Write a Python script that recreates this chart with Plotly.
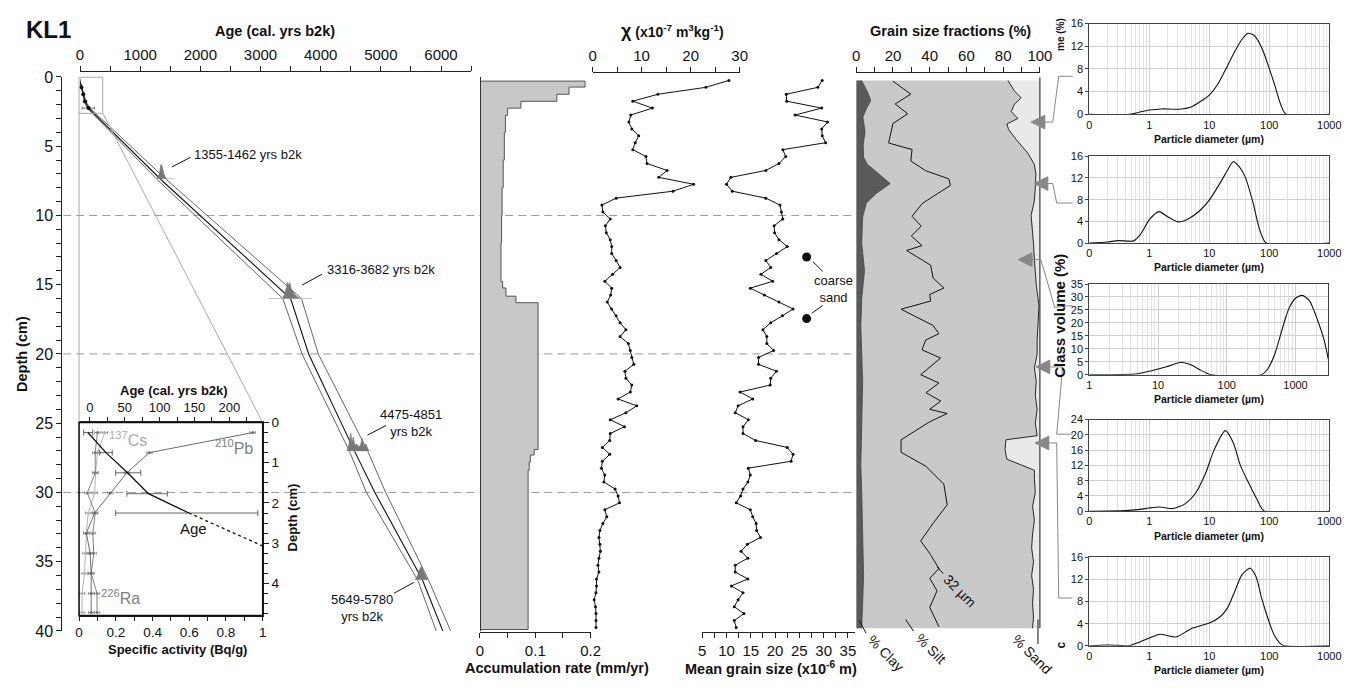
import plotly.graph_objects as go

W, H = 1363, 688
def X(px): return px / W
def Y(py): return 1 - py / H
FONT = "Liberation Sans, Arial, Helvetica, sans-serif"
INK = "#111111"

# ======================= DATA =======================
# Age-depth model (cal. yrs b2k vs depth cm)
model_depth   = [0.25, 0.75, 1.25, 1.77, 2.25, 7.35, 16.0, 20.0, 27.0, 30.0, 36.3, 40.0]
model_age_med = [-3, 23, 55, 84, 142, 1330, 3500, 3800, 4560, 4900, 5690, 6030]
model_age_min = [-3, 20, 48, 72, 118, 1270, 3370, 3690, 4475, 4760, 5610, 5920]
model_age_max = [-3, 26, 62, 96, 166, 1420, 3680, 3960, 4780, 5080, 5790, 6160]

# 210Pb-derived ages (inset and top of main panel)
pb_age_depth = [0.25, 0.75, 1.25, 1.77, 2.25]
pb_age       = [-3, 23, 54, 84, 142]
pb_age_lo    = [-9, 14, 37, 53, 37]
pb_age_hi    = [4, 32, 73, 111, 241]
pb_extrap_depth = [2.25, 3.07]
pb_extrap_age   = [142, 248]

# radiocarbon dates: calibrated probability shapes
c14_labels = ["1355-1462 yrs b2k", "3316-3682 yrs b2k", "4475-4851<br>yrs b2k", "5649-5780<br>yrs b2k"]
c14_depth  = [7.35, 16.0, 27.0, 36.3]
c14_base_lo = [1280, 3130, 4420, 5560]
c14_base_hi = [1570, 3850, 4850, 5800]
c14_ages = [
    [1280, 1320, 1345, 1365, 1390, 1420, 1445],
    [3360, 3400, 3430, 3450, 3470, 3490, 3510, 3550, 3600, 3655],
    [4440, 4470, 4500, 4520, 4540, 4570, 4600, 4630, 4660, 4690, 4720, 4750, 4780, 4800],
    [5570, 5610, 5640, 5670, 5690, 5720, 5750, 5790],
]
c14_heights = [
    [0, 0.4, 1.05, 0.9, 0.4, 0.1, 0],
    [0, 0.3, 0.8, 1.2, 0.9, 1.15, 0.7, 0.4, 0.15, 0],
    [0, 0.5, 1.3, 0.6, 1.0, 0.4, 0.5, 0.3, 0.4, 0.9, 0.3, 0.5, 0.2, 0],
    [0, 0.3, 0.7, 0.95, 0.8, 0.5, 0.2, 0],
]

# Inset: specific activities (Bq/g)
rn_depth = [0.25, 0.75, 1.25, 1.75, 2.25, 2.75, 3.25, 3.75, 4.25, 4.72]
cs137 = [0.14, 0.10, 0.09, 0.085, 0.05, 0.04, 0.035, 0.03, 0.016, 0.016]
ra226 = [0.10, 0.088, 0.088, 0.045, 0.088, 0.075, 0.08, 0.066, 0.098, 0.098]
pb210 = [0.946, 0.383, 0.26, 0.17, 0.085, 0.04, 0.06, 0.066, 0.066, 0.066]

# Accumulation rate (mm/yr), step profile
acc_top  = [0.3, 0.73, 1.25, 1.76, 2.25, 2.77, 4.0, 6.0, 8.0, 10.0, 12.0, 14.77, 15.24, 15.83, 16.3, 26.9, 27.3, 27.8, 28.4]
acc_rate = [0.19, 0.161, 0.139, 0.074, 0.05, 0.046, 0.044, 0.042, 0.040, 0.039, 0.038, 0.041, 0.047, 0.065, 0.105, 0.098, 0.091, 0.089, 0.087]
acc_bottom = 39.9

# Samples
sample_depth = [0.25, 0.75, 1.25, 1.75, 2.25, 2.75, 3.25, 3.75, 4.25, 4.75,
                5.25, 5.75, 6.25, 6.75, 7.25, 7.75, 8.25, 8.75, 9.25, 9.75,
                10.25, 10.75, 11.25, 11.75, 12.25, 12.75, 13.25, 13.75, 14.25, 14.75,
                15.25, 15.75, 16.25, 16.75, 17.25, 17.75, 18.25, 18.75, 19.25, 19.75,
                20.25, 20.75, 21.25, 21.75, 22.25, 22.75, 23.25, 23.75, 24.25, 24.75,
                25.25, 25.75, 26.25, 26.75, 27.25, 27.75, 28.25, 28.75, 29.25, 29.75,
                30.25, 30.75, 31.25, 31.75, 32.25, 32.75, 33.25, 33.75, 34.25, 34.75,
                35.25, 35.75, 36.25, 36.75, 37.25, 37.75, 38.25, 38.75, 39.25, 39.75]
chi = [27.8, 23.1, 13.3, 8.2, 12.2, 7.8, 7.4, 8.0, 9.4, 8.7,
       8.2, 10.9, 11.1, 15.2, 13.5, 20.6, 16.4, 4.8, 1.9, 2.1,
       3.6, 2.6, 2.8, 3.6, 3.9, 3.9, 4.8, 5.6, 4.1, 2.5,
       3.9, 3.7, 3.0, 3.9, 4.8, 5.6, 6.8, 5.6, 7.3, 7.7,
       8.0, 8.4, 6.6, 6.8, 8.0, 7.7, 5.2, 9.0, 6.8, 3.6,
       6.5, 3.6, 3.5, 2.0, 3.5, 2.0, 1.8, 2.5, 2.3, 4.6,
       5.2, 5.5, 2.5, 2.9, 2.1, 1.5, 1.3, 1.5, 1.6, 1.3,
       1.1, 1.3, 0.8, 0.8, 0.7, 0.3, 0.6, 0.7, 0.7, 0.7]
mgs = [29.7, 28.8, 22.3, 22.4, 29.6, 24.1, 30.8, 29.6, 29.7, 30.4,
       21.6, 22.2, 20.8, 18.1, 10.9, 10.0, 11.2, 18.1, 21.0, 21.3,
       21.6, 19.8, 19.9, 20.8, 22.5, 20.3, 18.1, 19.1, 17.1, 19.5,
       14.9, 17.8, 20.8, 23.7, 21.5, 19.1, 17.5, 18.3, 18.3, 19.7,
       16.6, 16.6, 20.3, 19.1, 19.0, 12.8, 15.4, 12.4, 11.8, 14.5,
       13.4, 13.4, 16.0, 22.5, 23.7, 23.3, 14.5, 14.9, 14.4, 13.4,
       12.9, 12.0, 14.9, 15.4, 16.1, 16.2, 17.0, 14.3, 13.0, 14.4,
       11.8, 11.8, 14.4, 11.0, 13.4, 12.4, 11.6, 13.6, 11.6, 12.0]
coarse_depth = [13.0, 17.45]
coarse_mgs = [26.5, 26.5]

# Grain size fractions (cumulative %)
clay_depth = [0.25, 1.1, 1.7, 2.3, 2.9, 3.95, 4.9, 5.8, 6.3, 7.0, 7.7, 8.4, 9.1, 10.1, 12, 14, 16, 18, 20, 22, 25, 28, 30, 33, 36, 39.8]
clay_pct   = [2.9, 6.2, 7.9, 5.5, 3.6, 4.8, 3.8, 4.0, 6.0, 12.0, 18.5, 11.0, 5.5, 3.5, 3.0, 4.5, 3.0, 2.5, 3.0, 3.5, 3.0, 2.5, 3.0, 3.5, 4.0, 3.0]
d32_depth = [0.3, 1.24, 1.95, 2.66, 3.36, 3.95, 4.77, 5.24, 6.07, 6.77, 7.36, 7.83, 9.13, 10.06, 10.77, 11.48, 12.18, 12.53,
             13.59, 14.53, 15.24, 15.71, 16.18, 16.77, 17.95, 18.54, 19.0, 19.7, 20.3, 21.5, 22.1, 22.8, 23.4, 24.0, 24.3,
             24.9, 26.2, 27.1, 28.1, 29.4, 30.9, 32.2, 33.5, 34.5, 35.5, 36.2, 37.1, 38.3, 39.7]
d32_pct = [19.9, 29.7, 21.2, 28.0, 20.0, 19.0, 17.6, 30.4, 29.7, 37.8, 50.4, 51.3, 36.0, 30.4, 35.4, 30.0, 35.8, 27.4,
           40.5, 41.9, 47.7, 40.0, 40.5, 24.4, 41.9, 45.0, 37.8, 35.8, 45.9, 35.1, 45.0, 38.0, 46.0, 40.0, 49.5,
           40.0, 24.4, 24.4, 37.8, 47.7, 49.5, 42.0, 35.1, 40.5, 45.0, 40.0, 44.0, 40.0, 45.0]
sand_depth = [0.25, 1.0, 1.5, 2.0, 2.5, 3.0, 3.4, 3.8, 4.5, 5.5, 6.3, 7.0, 8.0, 9.0, 10.0, 11.0, 12.0, 13.0, 14.0, 15.0,
              16.5, 18.0, 19.0, 20.0, 21.0, 22.0, 23.0, 24.0, 25.0, 25.9, 26.2, 26.9, 27.6, 28.4, 29.0, 30.0, 31.0,
              32.0, 33.0, 34.0, 35.0, 36.0, 37.0, 38.0, 39.0, 39.8]
sand_cum = [82.6, 86.0, 89.8, 86.0, 84.4, 88.0, 82.0, 83.0, 87.0, 93.4, 96.9, 97.8, 97.5, 96.9, 95.2, 96.0, 96.5, 96.9, 97.5, 98.0,
            99.5, 98.7, 98.5, 98.5, 97.0, 98.0, 97.5, 98.5, 97.5, 98.5, 81.5, 81.0, 82.0, 97.0, 97.0, 97.5, 96.0,
            97.0, 96.0, 95.5, 96.5, 95.5, 96.5, 96.0, 96.5, 96.0]

# Particle size distributions (diameter um, class volume %)
psd1_d = [0.1, 0.47, 0.7, 1.0, 1.6, 2.5, 3.5, 5, 7, 10, 14, 20, 27, 35, 44, 55, 65, 80, 95, 123, 158, 190, 1000]
psd1_v = [0, 0, 0.4, 0.75, 0.95, 0.9, 0.95, 1.3, 2.2, 3.4, 5.4, 8.5, 11.2, 13.2, 14.3, 14.0, 13.0, 11.0, 8.8, 5.2, 1.5, 0, 0]
psd2_d = [0.1, 0.2, 0.3, 0.45, 0.55, 0.7, 0.85, 1.0, 1.45, 2.0, 3.0, 4.5, 7, 10, 16, 21, 25, 32, 40, 54, 69, 89, 1000]
psd2_v = [0, 0.2, 0.45, 0.35, 0.4, 1.5, 3.0, 4.3, 5.8, 4.9, 3.9, 4.5, 6.0, 7.9, 11.5, 13.8, 15.0, 14.0, 12.1, 7.3, 2.5, 0, 0]
psd3_d = [1, 3, 5, 8, 11, 15, 22, 30, 40, 50, 60, 320, 400, 500, 600, 700, 800, 1000, 1250, 1600, 2100, 2600, 3000]
psd3_v = [0, 0.1, 0.4, 1.5, 2.5, 3.5, 4.8, 3.8, 2.0, 0.7, 0, 0, 2.5, 8, 15, 21, 25.5, 29.5, 30.6, 28.5, 21, 13.5, 6]
psd4_d = [0.1, 0.4, 0.7, 1.0, 1.5, 2.5, 4, 6, 8.7, 12, 18.5, 25, 33, 45, 62, 83, 1000]
psd4_v = [0, 0.15, 0.5, 0.85, 1.1, 0.7, 2.0, 4.9, 10, 16, 21.1, 18.0, 12, 7.5, 3.2, 0, 0]
psd5_d = [0.1, 0.2, 0.3, 0.45, 0.7, 1.0, 1.5, 2.8, 5, 10, 15, 20, 27, 35, 48, 60, 75, 96, 120, 150, 180, 1000]
psd5_v = [0, 0.15, 0.1, 0, 0.7, 1.4, 2.1, 1.6, 3.1, 4.1, 5.2, 6.8, 10, 12.8, 14, 12.5, 8.5, 4.8, 2, 0.5, 0, 0]

# ======================= FIGURE =======================
fig = go.Figure()
def add(tr):
    fig.add_trace(tr)

# --- Panel 1: age-depth model
add(go.Scatter(x=model_age_min, y=model_depth, mode='lines', line=dict(color='#666', width=1), xaxis='x', yaxis='y'))
add(go.Scatter(x=model_age_max, y=model_depth, mode='lines', line=dict(color='#666', width=1), xaxis='x', yaxis='y'))
add(go.Scatter(x=model_age_med, y=model_depth, mode='lines', line=dict(color='#111', width=1.1), xaxis='x', yaxis='y'))
for ages, hts, d, lo, hi in zip(c14_ages, c14_heights, c14_depth, c14_base_lo, c14_base_hi):
    add(go.Scatter(x=[lo, hi], y=[d, d], mode='lines', line=dict(color='#c4c4c4', width=1), xaxis='x', yaxis='y'))
    add(go.Scatter(x=ages, y=[d - h for h in hts], mode='lines', fill='toself', fillcolor='#777',
                   line=dict(color='#777', width=0.6), xaxis='x', yaxis='y'))
add(go.Scatter(x=pb_age, y=pb_age_depth, mode='markers', marker=dict(color='#111', size=4), cliponaxis=False,
               error_x=dict(type='data', array=[h - a for h, a in zip(pb_age_hi, pb_age)],
                            arrayminus=[a - l for a, l in zip(pb_age, pb_age_lo)], color='#777', thickness=1, width=1.5),
               xaxis='x', yaxis='y'))

# --- Panel 2: accumulation rate
acc_x = [0]; acc_y = [acc_top[0]]
for i, r in enumerate(acc_rate):
    nxt = acc_top[i + 1] if i + 1 < len(acc_top) else acc_bottom
    acc_x += [r, r]; acc_y += [acc_top[i], nxt]
acc_x.append(0); acc_y.append(acc_bottom)
add(go.Scatter(x=acc_x, y=acc_y, mode='lines', fill='toself', fillcolor='#c8c8c8',
               line=dict(color='#555', width=1), xaxis='x2', yaxis='y2'))

# --- Panel 3: magnetic susceptibility
add(go.Scatter(x=chi, y=sample_depth, mode='lines+markers', line=dict(color='#111', width=1),
               marker=dict(size=3, color='#111'), xaxis='x3', yaxis='y3'))

# --- Panel 4: mean grain size
add(go.Scatter(x=mgs, y=sample_depth, mode='lines+markers', line=dict(color='#111', width=1),
               marker=dict(size=3, color='#111'), xaxis='x4', yaxis='y4'))
add(go.Scatter(x=coarse_mgs, y=coarse_depth, mode='markers', marker=dict(size=9, color='#111'),
               xaxis='x4', yaxis='y4', cliponaxis=False))

# --- Panel 5: grain size fractions
add(go.Scatter(x=sand_cum, y=sand_depth, mode='lines', fill='tozerox', fillcolor='#c9c9c9',
               line=dict(width=0), xaxis='x5', yaxis='y5'))
add(go.Scatter(x=sand_cum + [100, 100], y=sand_depth + [sand_depth[-1], sand_depth[0]], mode='lines',
               fill='toself', fillcolor='#e9e9e9', line=dict(width=0), xaxis='x5', yaxis='y5'))
add(go.Scatter(x=clay_pct, y=clay_depth, mode='lines', fill='tozerox', fillcolor='#5a5a5a',
               line=dict(color='#444', width=0.8), xaxis='x5', yaxis='y5'))
add(go.Scatter(x=d32_pct, y=d32_depth, mode='lines', line=dict(color='#111', width=1), xaxis='x5', yaxis='y5'))
add(go.Scatter(x=sand_cum, y=sand_depth, mode='lines', line=dict(color='#111', width=0.9), xaxis='x5', yaxis='y5'))

# --- Inset
small_err = dict(type='constant', value=0.015, color='#888', thickness=0.8, width=1.5)
add(go.Scatter(x=cs137, y=rn_depth, mode='lines+markers', line=dict(color='#b3b3b3', width=1),
               marker=dict(size=3, color='#b3b3b3'), error_x=small_err, xaxis='x6', yaxis='y6'))
add(go.Scatter(x=ra226, y=rn_depth, mode='lines+markers', line=dict(color='#808080', width=1),
               marker=dict(size=3, color='#808080'), error_x=small_err, xaxis='x6', yaxis='y6'))
add(go.Scatter(x=pb210, y=rn_depth, mode='lines+markers', line=dict(color='#6e6e6e', width=1),
               marker=dict(size=3, color='#6e6e6e'), error_x=small_err, xaxis='x6', yaxis='y6'))
add(go.Scatter(x=pb_age, y=pb_age_depth, mode='lines', line=dict(color='#111', width=1.3),
               error_x=dict(type='data', array=[h - a for h, a in zip(pb_age_hi, pb_age)],
                            arrayminus=[a - l for a, l in zip(pb_age, pb_age_lo)], color='#666', thickness=1, width=3),
               xaxis='x7', yaxis='y6'))
add(go.Scatter(x=pb_extrap_age, y=pb_extrap_depth, mode='lines', line=dict(color='#111', width=1.3, dash='dot'),
               xaxis='x7', yaxis='y6'))

# --- Particle size distributions
psd = [(psd1_d, psd1_v), (psd2_d, psd2_v), (psd3_d, psd3_v), (psd4_d, psd4_v), (psd5_d, psd5_v)]
for k, (d, v) in enumerate(psd):
    i = 8 + k
    add(go.Scatter(x=d, y=v, mode='lines', line=dict(color='#111', width=1.1, shape='spline', smoothing=0.7),
                   xaxis=f'x{i}', yaxis=f'y{i}'))

# ======================= AXES =======================
tf = dict(size=15, family=FONT, color=INK)
base = dict(showgrid=False, zeroline=False, showline=True, linecolor='#222', linewidth=1,
            ticks='outside', ticklen=5, tickwidth=1, tickcolor='#222', tickfont=tf)
def minor(dt, ln=5):
    return dict(dtick=dt, ticks='outside', ticklen=ln, tickwidth=1, tickcolor='#222', showgrid=False)

DEPTH_DOM = [Y(638.7), Y(70.7)]
lay = dict(width=W, height=H, margin=dict(l=0, r=0, t=0, b=0), paper_bgcolor='white',
           plot_bgcolor='rgba(0,0,0,0)', showlegend=False, font=dict(family=FONT, size=14, color=INK))

lay['xaxis'] = dict(base, domain=[X(77), X(473)], range=[0, 6500], anchor='free', position=Y(65), side='top',
                    tick0=0, dtick=1000, minor=minor(500))
lay['yaxis'] = dict(base, domain=DEPTH_DOM, range=[40, 0], anchor='free', position=X(58), tick0=0, dtick=5,
                    minor=minor(1), tickfont=dict(size=16, family=FONT, color=INK))
lay['xaxis2'] = dict(base, domain=[X(482), X(594)], range=[0, 0.2], anchor='free', position=Y(640), side='bottom',
                     tick0=0, dtick=0.1, minor=minor(0.05))
lay['yaxis2'] = dict(domain=DEPTH_DOM, range=[40, 0], anchor='free', position=X(482), showline=True, linecolor='#333',
                     ticks='', showticklabels=False, showgrid=False, zeroline=False)
lay['xaxis3'] = dict(base, domain=[X(596), X(745)], range=[0, 30], anchor='free', position=Y(66), side='top',
                     tick0=0, dtick=10, minor=minor(5))
lay['yaxis3'] = dict(domain=DEPTH_DOM, range=[40, 0], anchor='free', position=X(596), visible=False)
lay['xaxis4'] = dict(base, domain=[X(707), X(862)], range=[5, 36.5], anchor='free', position=Y(640), side='bottom',
                     tick0=5, dtick=5, minor=dict(minor(2.5), tick0=5))
lay['yaxis4'] = dict(domain=DEPTH_DOM, range=[40, 0], anchor='free', position=X(707), visible=False)
lay['xaxis5'] = dict(base, domain=[X(863), X(1049)], range=[0, 100], anchor='free', position=Y(66), side='top',
                     tick0=0, dtick=20, minor=minor(10))
lay['yaxis5'] = dict(domain=DEPTH_DOM, range=[40, 0], anchor='free', position=X(863), visible=False)

itf = dict(size=13.5, family=FONT, color=INK)
lay['xaxis6'] = dict(base, domain=[X(76), X(262)], range=[0, 1], anchor='y6', side='bottom', ticklen=4,
                     tick0=0, dtick=0.2, minor=minor(0.1, 4), tickfont=itf)
lay['yaxis6'] = dict(base, domain=[Y(623), Y(425)], range=[4.8, 0], anchor='x6', side='right', ticklen=5,
                     tick0=0, dtick=1, minor=minor(0.25, 4), tickfont=itf)
lay['xaxis7'] = dict(base, overlaying='x6', range=[-15.6, 248], anchor='y6', side='top', ticklen=4,
                     tick0=0, dtick=50, minor=minor(25, 4), tickfont=dict(itf, size=13))

mtf = dict(size=11, family=FONT, color=INK)
mini = [  # (top px, bottom px, right px, x log range, y range, y dtick, alias)
    (16, 109, 1342, [-1, 3], [0, 16], 4, {'0.1': '0'}),
    (152, 241, 1342, [-1, 3], [0, 16], 4, {'0.1': '0'}),
    (283, 376, 1341, [0, 3.477], [0, 35], 5, {}),
    (422, 516, 1342, [-1, 3], [0, 24], 4, {'0.1': '0'}),
    (563, 654, 1342, [-1, 3], [0, 16], 4, {'0.1': '0'}),
]
for k, (yt, yb, xr, xrng, yrng, ydt, alias) in enumerate(mini):
    i = 8 + k
    lay[f'xaxis{i}'] = dict(domain=[X(1099), X(xr)], anchor=f'y{i}', type='log', range=xrng, dtick=1,
                            showgrid=True, gridcolor='#cfcfcf', gridwidth=1,
                            minor=dict(dtick='D1', showgrid=True, gridcolor='#e3e3e3', ticks=''),
                            showline=True, mirror=True, linecolor='#444', ticks='', tickfont=mtf,
                            labelalias=alias, zeroline=False)
    lay[f'yaxis{i}'] = dict(domain=[Y(yb), Y(yt)], anchor=f'x{i}', range=yrng, dtick=ydt, showgrid=True,
                            gridcolor='#cfcfcf', showline=True, mirror=True, linecolor='#444', ticks='outside',
                            ticklen=3, tickcolor='#444', tickfont=mtf, zeroline=False)

# ======================= ANNOTATIONS =======================
anns = []
def ann(text, px, py, size=14, bold=False, angle=0, xanchor='center', color=INK):
    anns.append(dict(text=f"<b>{text}</b>" if bold else text, x=X(px), y=Y(py), xref='paper', yref='paper',
                     showarrow=False, xanchor=xanchor, yanchor='middle', textangle=angle,
                     font=dict(size=size, family=FONT, color=color)))

ann("KL1", 20, 22, size=24, bold=True, xanchor='left')
ann("Age (cal. yrs b2k)", 274, 24, size=14.5, bold=True)
ann("<span style='font-size:18px'>χ</span> (x10<sup>-7</sup> m<sup>3</sup>kg<sup>-1</sup>)", 677, 24, size=14, bold=True)
ann("Grain size fractions (%)", 958, 24, size=14.5, bold=True)
ann("Depth (cm)", 18, 355, size=14.5, bold=True, angle=-90)
ann("Accumulation rate (mm/yr)", 560, 677, size=14.5, bold=True)
ann("Mean grain size (x10<sup>-6</sup> m)", 777, 677, size=14.5, bold=True)
# date labels
ann(c14_labels[0], 190, 150, size=13, xanchor='left')
ann(c14_labels[1], 325, 268, size=13, xanchor='left')
ann(c14_labels[2], 412, 426, size=13)
ann(c14_labels[3], 363, 615, size=13)
# inset labels
ann("Age (cal. yrs b2k)", 172, 392, size=13, bold=True)
ann("Specific activity (Bq/g)", 176, 658, size=13, bold=True)
ann("Depth (cm)", 292, 522, size=13, bold=True, angle=-90)
ann("<sup>137</sup>Cs", 104, 442, size=16, xanchor='left', color='#aaaaaa')
ann("<sup>210</sup>Pb", 254, 450, size=16, xanchor='right', color='#808080')
ann("<sup>226</sup>Ra", 96, 604, size=16, xanchor='left', color='#808080')
ann("Age", 192, 534, size=15)
# coarse sand
ann("coarse<br>sand", 840, 288, size=13)
# fractions labels
ann("% Clay", 893, 661, size=14, angle=45)
ann("% Silt", 939, 657, size=14, angle=45)
ann("% Sand", 1041, 662, size=14, angle=45)
ann("32 µm", 968, 598, size=14, angle=45)
# right panel labels
ann("Class volume (%)", 1069, 316, size=15, bold=True, angle=-90)
ann("me (%)", 1070, 27, size=10, bold=True, angle=-90)
ann("c", 1070, 653, size=12, bold=True, angle=-90)
for (yt, yb, xr, *_ ) in mini:
    ann("Particle diameter (µm)", 1220, yb + 25, size=10.5, bold=True)
lay['annotations'] = anns

# ======================= SHAPES =======================
shapes = []
def line(x1, y1, x2, y2, color='#333', width=1, dash='solid'):
    shapes.append(dict(type='line', xref='paper', yref='paper', x0=X(x1), y0=Y(y1), x1=X(x2), y1=Y(y2),
                       line=dict(color=color, width=width, dash=dash)))
def path(pts, color='#888', width=1, fill=None):
    d = "M " + " L ".join(f"{X(a):.5f},{Y(b):.5f}" for a, b in pts)
    if fill:
        d += " Z"
    shapes.append(dict(type='path', xref='paper', yref='paper', path=d,
                       line=dict(color=color, width=width), fillcolor=fill if fill else 'rgba(0,0,0,0)'))

# dashed depth lines
for dd in [10, 20, 30]:
    shapes.append(dict(type='line', xref='paper', yref='y', x0=X(60), x1=X(862), y0=dd, y1=dd,
                       line=dict(color='#9a9a9a', width=1, dash='8px,5px'), layer='below'))
# zoom box and connecting lines
path([(76, 71), (100, 71), (100, 108), (76, 108)], color='#aaa', width=1, fill='rgba(0,0,0,0)')
line(76, 108, 76, 425, color='#aaa')
line(100, 108, 262, 425, color='#aaa')
# inset frame
shapes.append(dict(type='rect', xref='paper', yref='paper', x0=X(76), x1=X(262), y0=Y(623), y1=Y(425),
                   line=dict(color='#111', width=1.6)))
# date leader lines
line(170, 163, 189, 153, color='#111')
line(302, 284, 322, 273, color='#111')
line(368, 438, 387, 428, color='#111')
line(395, 600, 415, 589, color='#111')
# coarse sand leaders
line(819, 260, 829, 270, color='#111')
line(818, 313, 829, 305, color='#111')
# fraction panel right edge
line(1049, 71, 1049, 636, color='#111')
# fraction label leaders
line(866, 628, 873, 641, color='#111')
line(913, 627, 921, 639, color='#111')
line(1047, 627, 1047, 652, color='#111')
line(945, 573, 951, 580, color='#111')
# sample pointers (triangles) and connectors
tris = [(1040, 117, 1054), (1043, 180, 1057), (1027, 258, 1041), (1045, 368, 1059), (1044, 446, 1058)]
for tx, ty, bx in tris:
    path([(tx, ty), (bx, ty - 7), (bx, ty + 7)], color='#888', width=1, fill='#888')
path([(1054, 117), (1062, 117), (1068, 70), (1082, 70)])
path([(1057, 180), (1062, 180), (1066, 200), (1082, 200)])
path([(1041, 258), (1050, 258), (1064, 307), (1082, 305)])
path([(1059, 368), (1072, 368), (1066, 437), (1082, 437)])
path([(1058, 446), (1066, 446), (1068, 605), (1082, 605)])
lay['shapes'] = shapes

fig.update_layout(**lay)
fig.write_html("out.html")
